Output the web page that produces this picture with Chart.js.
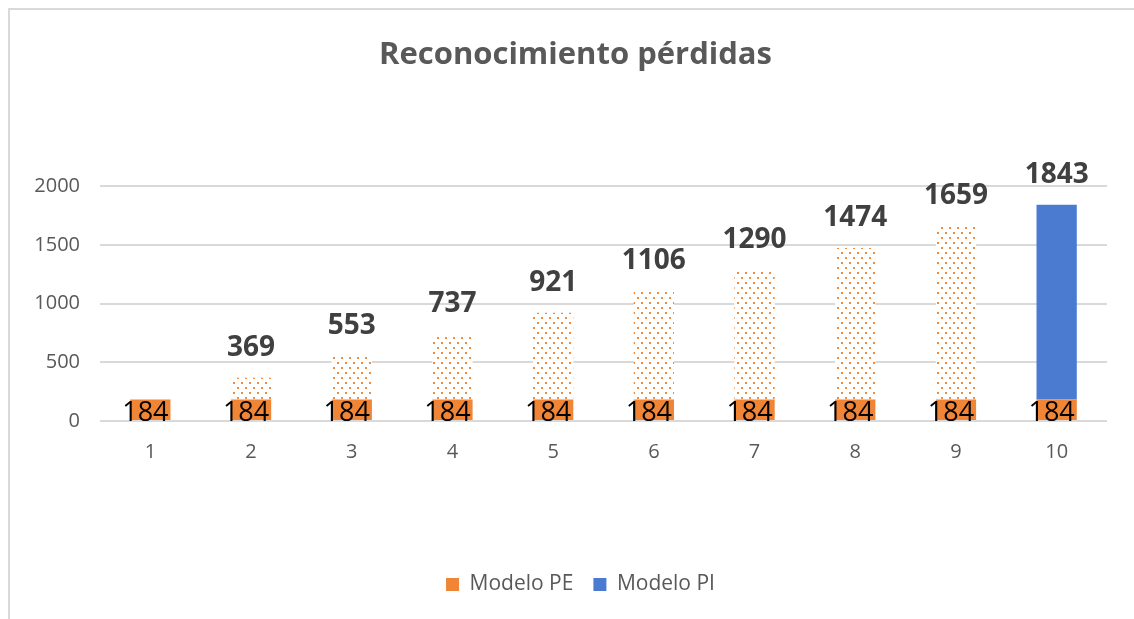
<!DOCTYPE html>
<html>
<head>
<meta charset="utf-8">
<script src="https://cdn.jsdelivr.net/npm/chart.js@4"></script>
<style>
  html, body { margin: 0; padding: 0; background: #fff; }
  #frame { position: absolute; left: 8px; top: 8px; right: 0; bottom: 0;
           border-left: 2px solid #d9d9d9; border-top: 2px solid #d9d9d9; }
  #wrap { position: absolute; left: 0; top: 0; width: 1134px; height: 619px; }
</style>
</head>
<body>
<div id="frame"></div>
<div id="wrap"><canvas id="myChart"></canvas></div>
<script>
const categories = ['1', '2', '3', '4', '5', '6', '7', '8', '9', '10'];
const modeloPE = [184, 184, 184, 184, 184, 184, 184, 184, 184, 184];
const acumuladoPE = [null, 369, 553, 737, 921, 1106, 1290, 1474, 1659, null];
const modeloPI = [null, null, null, null, null, null, null, null, null, 1843];
const yTicks = [0, 500, 1000, 1500, 2000];

const orange = '#EF8535';
const blue = '#4A7BD0';
const fontFam = "'Open Sans', 'Liberation Sans', sans-serif";

// dotted fill like the Excel pattern
function dotPattern() {
  const c = document.createElement('canvas');
  c.width = 8; c.height = 10;
  const g = c.getContext('2d');
  g.fillStyle = '#ffffff';
  g.fillRect(0, 0, 8, 10);
  g.fillStyle = '#F28C3C';
  g.fillRect(1, 2, 2, 2);
  g.fillRect(5, 7, 2, 2);
  return g.createPattern(c, 'repeat');
}

const ctx = document.getElementById('myChart');

const labelPlugin = {
  id: 'barLabels',
  afterLayout(chart) {
    // title and legend sit a bit right of the plot centre in the original
    if (chart.titleBlock) { chart.titleBlock.left += 22; chart.titleBlock.right += 22; }
    if (chart.legend) { chart.legend.left += 27; chart.legend.right += 27; }
  },
  afterDatasetsDraw(chart) {
    const g = chart.ctx;
    g.save();
    // 184 inside the base bars
    const base = chart.getDatasetMeta(0);
    g.font = '27px ' + fontFam;
    g.fillStyle = '#000';
    g.textAlign = 'center';
    g.textBaseline = 'alphabetic';
    base.data.forEach((bar, i) => {
      g.fillText(String(modeloPE[i]), bar.x - 5, bar.base + 1);
    });
    // totals above the bars
    g.font = 'bold 28px ' + fontFam;
    g.fillStyle = '#404040';
    g.textBaseline = 'middle';
    [1, 2].forEach(d => {
      const meta = chart.getDatasetMeta(d);
      const vals = d === 1 ? acumuladoPE : modeloPI;
      meta.data.forEach((bar, i) => {
        if (vals[i] == null) return;
        g.fillText(String(vals[i]), bar.x, bar.y - 30);
      });
    });
    g.restore();
  }
};

new Chart(ctx, {
  type: 'bar',
  data: {
    labels: categories,
    datasets: [{
      label: 'Modelo PE',
      data: modeloPE.map(v => [0, v]),
      backgroundColor: orange,
      grouped: false,
      order: 0
    },
    {
      label: '',
      data: acumuladoPE.map((v, i) => v == null ? null : [modeloPE[i], v]),
      backgroundColor: dotPattern(),
      grouped: false,
      order: 1
    },
    {
      label: 'Modelo PI',
      data: modeloPI.map((v, i) => v == null ? null : [modeloPE[i], v]),
      backgroundColor: blue,
      grouped: false,
      order: 2
    }]
  },
  options: {
    responsive: true,
    maintainAspectRatio: false,
    animation: false,
    barPercentage: 0.4,
    categoryPercentage: 1,
    layout: { padding: { left: 0, right: 27, top: 0, bottom: 14 } },
    plugins: {
      tooltip: { enabled: false },
      title: {
        display: true,
        text: 'Reconocimiento pérdidas',
        color: '#595959',
        font: { family: fontFam, size: 31, weight: 'bold' },
        padding: { top: 37, bottom: 112 }
      },
      legend: {
        position: 'bottom',
        labels: {
          color: '#595959',
          font: { family: fontFam, size: 21 },
          boxWidth: 13,
          boxHeight: 13,
          padding: 20,
          filter: item => item.text !== ''
        }
      }
    },
    scales: {
      x: {
        grid: { display: false },
        border: { display: false },
        ticks: { color: '#595959', font: { family: fontFam, size: 20 }, padding: 11 },
        afterFit(scale) { scale.height = 133; }
      },
      y: {
        min: 0,
        max: 2000,
        afterBuildTicks(scale) { scale.ticks = yTicks.map(v => ({ value: v })); },
        grid: { color: '#d9d9d9', lineWidth: 2, drawTicks: false },
        border: { display: false },
        ticks: {
          color: '#595959',
          font: { family: fontFam, size: 20 },
          padding: 20,
          callback: v => String(v)
        },
        afterFit(scale) { scale.width = 100; }
      }
    }
  },
  plugins: [labelPlugin]
});
</script>
</body>
</html>
